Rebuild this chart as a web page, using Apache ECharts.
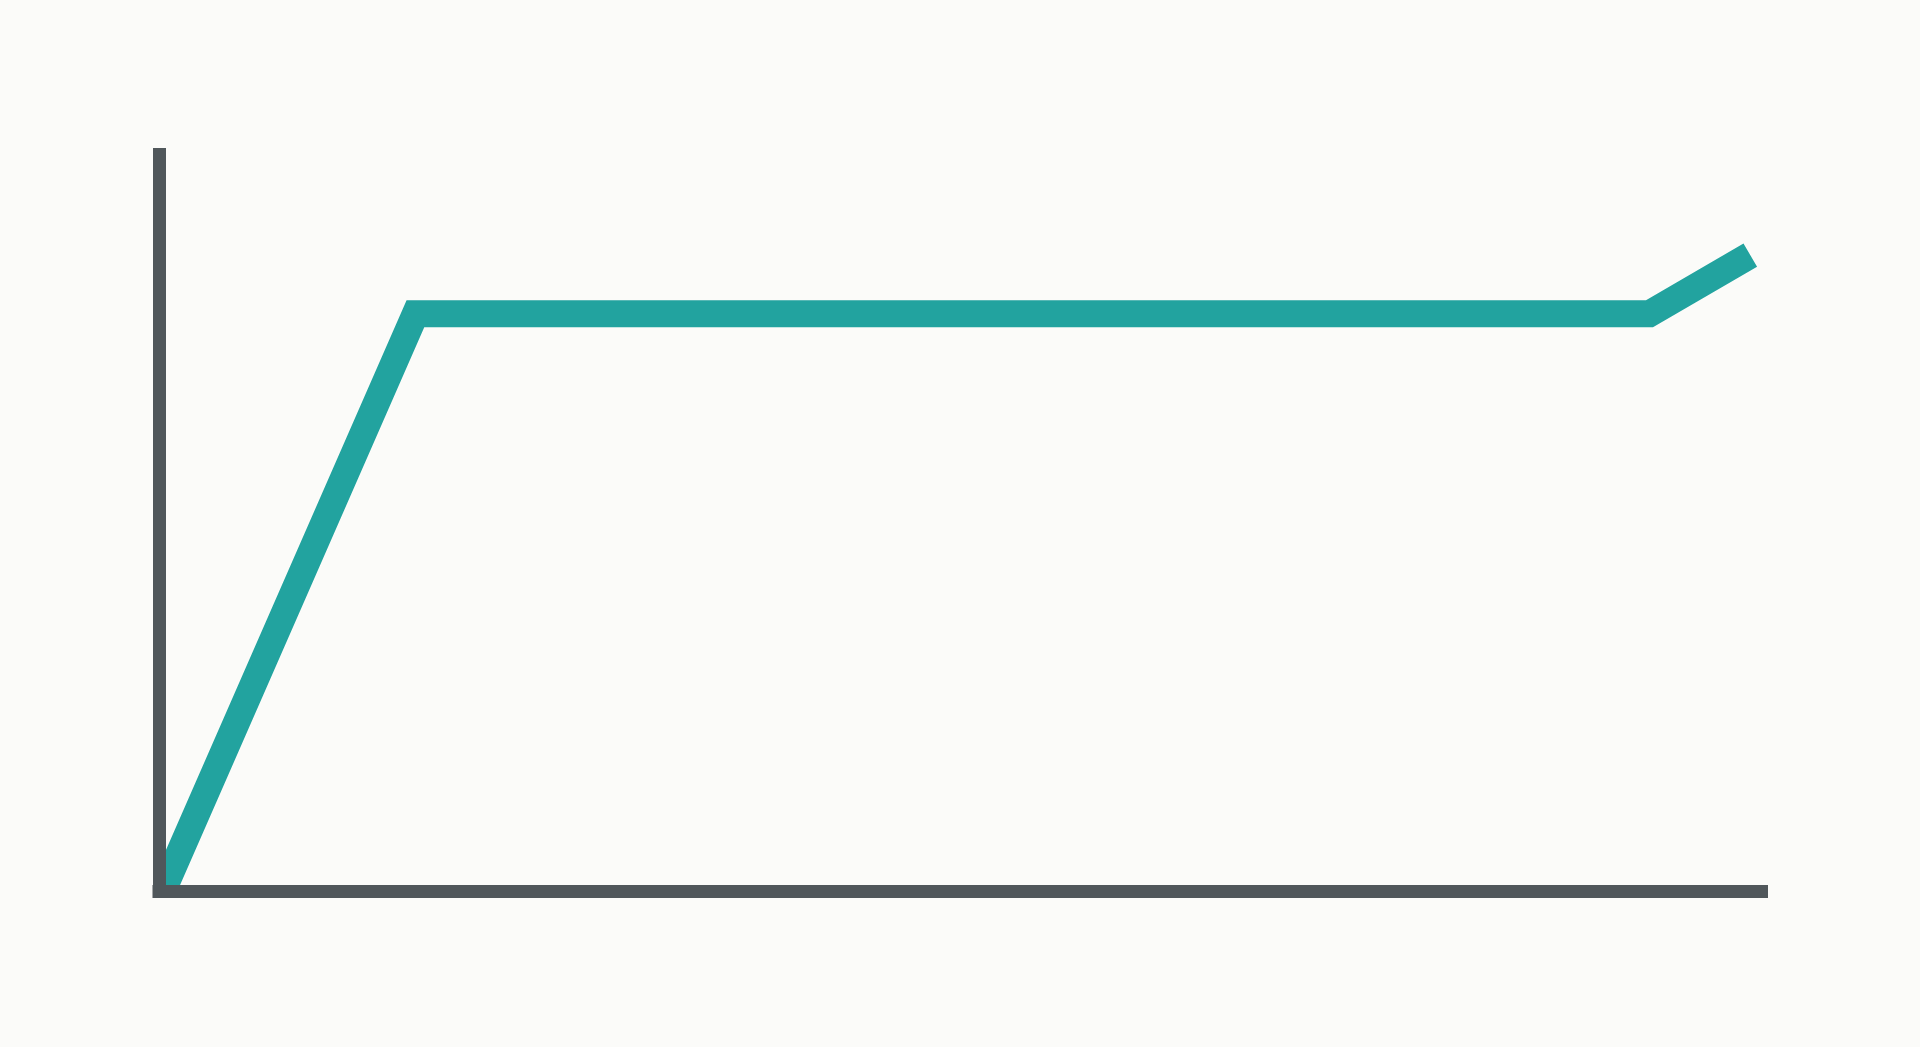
<!DOCTYPE html>
<html lang="en">
<head>
    <meta charset="UTF-8">
    <title>Line</title>
    <script src="https://cdn.jsdelivr.net/npm/echarts/dist/echarts.min.js"></script>
    <style>
        html, body, #chart {
            height: 100%;
            width: 100vw;
            padding: 0;
            margin: 0;
            background: #fbfbf9;
        }
    </style>
</head>
<body>
<div id="chart"></div>
<script>
    // point positions along each axis (0..100 on both)
    const xValues = [0.4, 16, 93, 99.3];
    const yValues = [0.9, 77.7, 77.7, 85.6];

    const points = xValues.map(function (x, i) {
        return [x, yValues[i]];
    });

    var myChart = echarts.init(document.getElementById("chart"));
    var option = {
        backgroundColor: "#fbfbf9",
        animation: false,
        grid: {
            left: 159,
            right: 158.5,
            top: 148,
            bottom: 155.5
        },
        xAxis: {
            type: "value",
            min: 0,
            max: 100,
            z: 5,
            axisLine: {
                show: true,
                lineStyle: { color: "#50575b", width: 13, cap: "square" }
            },
            axisTick: { show: false },
            axisLabel: { show: false },
            splitLine: { show: false }
        },
        yAxis: {
            type: "value",
            min: 0,
            max: 100,
            z: 5,
            axisLine: {
                show: true,
                lineStyle: { color: "#50575b", width: 13, cap: "butt" }
            },
            axisTick: { show: false },
            axisLabel: { show: false },
            splitLine: { show: false }
        },
        series: [
            {
                type: "line",
                data: points,
                symbol: "none",
                z: 1,
                lineStyle: {
                    color: "#22a39f",
                    width: 27,
                    cap: "butt",
                    join: "miter"
                }
            }
        ]
    };
    myChart.setOption(option);
</script>
</body>
</html>
